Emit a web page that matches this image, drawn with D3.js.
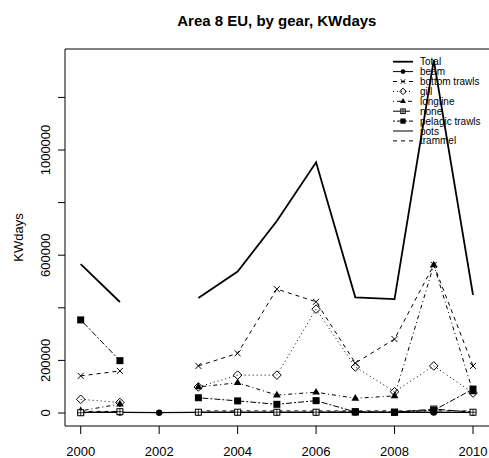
<!DOCTYPE html>
<html><head><meta charset="utf-8">
<script src="https://cdn.jsdelivr.net/npm/d3@7"></script>
<style>body{margin:0;background:#fff}svg{display:block;font-family:"Liberation Sans",Arial,sans-serif}</style>
</head><body><svg id="c" width="489" height="458"></svg>
<script>
const years = [2000,2001,2002,2003,2004,2005,2006,2007,2008,2009,2010];
const total = [566000,422000,null,437000,538000,730000,953000,440000,433000,1342000,449000];
const beam = [2000,2000,1000,2000,2000,2000,2000,2000,2000,2000,2000];
const bottomTrawls = [141000,160000,null,179000,227000,471000,423000,190000,281000,563000,179000];
const gill = [52000,40000,null,99000,144000,144000,395000,175000,81000,179000,76000];
const longline = [8000,34000,null,99000,115000,68000,79000,56000,65000,563000,80000];
const none = [1000,5000,null,3000,3000,3000,3000,5000,3000,15000,3000];
const pelagicTrawls = [354000,199000,null,58000,46000,33000,47000,4000,3000,10000,91000];
const pots = [3000,3000,2000,3000,3000,3000,3000,3000,3000,3000,3000];
const trammel = [6000,6000,null,8000,8000,8000,8000,8000,8000,8000,8000];
const seriesNames = ["Total","beam","bottom trawls","gill","longline","none","pelagic trawls","pots","trammel"];
const seriesValues = [total,beam,bottomTrawls,gill,longline,none,pelagicTrawls,pots,trammel];
const xTicks = [2000,2002,2004,2006,2008,2010];
const yTicks = [0,200000,400000,600000,800000,1000000,1200000];
const yTickLabels = [0,200000,600000,1000000];

const styles = [
  {dash:null, pch:null, w:1.8},
  {dash:null, pch:"circle", w:1},
  {dash:"4,4", pch:"x", w:1},
  {dash:"1,3", pch:"diamond", w:1},
  {dash:"1,3,4,3", pch:"triangle", w:1},
  {dash:"7,3", pch:"squareplus", w:1},
  {dash:"2,2,6,2", pch:"square", w:1},
  {dash:null, pch:null, w:1},
  {dash:"4,4", pch:null, w:1}
];

const svg = d3.select("#c");
const x = d3.scaleLinear().domain([1999.6, 2010.4]).range([65, 488.7]);
const y = d3.scaleLinear().domain([0,1000000]).range([413,150]);

const plotTop = 49, plotBottom = 426;

function drawPch(g, type, cx, cy, s) {
  s = s || 1;
  if (type === "circle") g.append("circle").attr("cx",cx).attr("cy",cy).attr("r",3.2*s).attr("fill","#000");
  else if (type === "square") g.append("rect").attr("x",cx-3.5*s).attr("y",cy-3.5*s).attr("width",7*s).attr("height",7*s).attr("fill","#000");
  else if (type === "triangle") { const r=4.3*s; g.append("path").attr("d",`M${cx},${cy-r}L${cx+r*0.9},${cy+r*0.55}L${cx-r*0.9},${cy+r*0.55}Z`).attr("fill","#000"); }
  else if (type === "diamond") { const r=4.3*s; g.append("path").attr("d",`M${cx},${cy-r}L${cx+r},${cy}L${cx},${cy+r}L${cx-r},${cy}Z`).attr("fill","none").attr("stroke","#000").attr("stroke-width",1); }
  else if (type === "x") { const r=3*s; g.append("path").attr("d",`M${cx-r},${cy-r}L${cx+r},${cy+r}M${cx-r},${cy+r}L${cx+r},${cy-r}`).attr("stroke","#000").attr("stroke-width",1); }
  else if (type === "squareplus") { const r=3*s; g.append("rect").attr("x",cx-r).attr("y",cy-r).attr("width",2*r).attr("height",2*r).attr("fill","#fff").attr("stroke","#000").attr("stroke-width",1);
    g.append("path").attr("d",`M${cx-r},${cy}L${cx+r},${cy}M${cx},${cy-r}L${cx},${cy+r}`).attr("stroke","#000").attr("stroke-width",0.8); }
}

// box
svg.append("path").attr("d",`M492,${plotTop}H65V${plotBottom}H492`).attr("fill","none").attr("stroke","#000").attr("stroke-width",1);

// series
const line = d3.line().defined(d => d[1] !== null).x(d => x(d[0])).y(d => y(d[1]));
seriesValues.forEach((vals, i) => {
  const st = styles[i];
  const pts = years.map((yr, k) => [yr, vals[k]]);
  const p = svg.append("path").attr("d", line(pts)).attr("fill","none").attr("stroke","#000").attr("stroke-width",st.w);
  if (st.dash) p.attr("stroke-dasharray", st.dash);
});
seriesValues.forEach((vals, i) => {
  const st = styles[i];
  if (!st.pch) return;
  const g = svg.append("g");
  years.forEach((yr, k) => { if (vals[k] !== null) drawPch(g, st.pch, x(yr), y(vals[k]), 1); });
});

// x axis
const xa = svg.append("g");
xTicks.forEach(t => {
  xa.append("line").attr("x1",x(t)).attr("x2",x(t)).attr("y1",plotBottom).attr("y2",plotBottom+8).attr("stroke","#000");
  xa.append("text").attr("x",x(t)).attr("y",456).attr("text-anchor","middle").attr("font-size",13).text(t);
});
// y axis
const ya = svg.append("g");
yTicks.forEach(t => {
  ya.append("line").attr("x1",58).attr("x2",65).attr("y1",y(t)).attr("y2",y(t)).attr("stroke","#000");
});
yTickLabels.forEach(t => {
  ya.append("text").attr("transform",`translate(50,${y(t)}) rotate(-90)`).attr("text-anchor","middle").attr("font-size",13).text(d3.format("d")(t));
});
svg.append("text").attr("transform",`translate(23,${(plotTop+plotBottom)/2}) rotate(-90)`).attr("text-anchor","middle").attr("font-size",13).text("KWdays");
svg.append("text").attr("x",(65+488.7)/2).attr("y",26).attr("text-anchor","middle").attr("font-size",15).attr("font-weight","bold").text("Area 8 EU, by gear, KWdays");

// legend
const lg = svg.append("g");
seriesNames.forEach((name, i) => {
  const cy = 61.7 + i*9.9;
  const st = styles[i];
  const l = lg.append("line").attr("x1",393).attr("x2",413).attr("y1",cy).attr("y2",cy).attr("stroke","#000").attr("stroke-width",st.w);
  if (st.dash) l.attr("stroke-dasharray", st.dash);
  if (st.pch) drawPch(lg, st.pch, 403, cy, 0.75);
  lg.append("text").attr("x",420).attr("y",cy+3.5).attr("font-size",10).text(name);
});
</script></body></html>
